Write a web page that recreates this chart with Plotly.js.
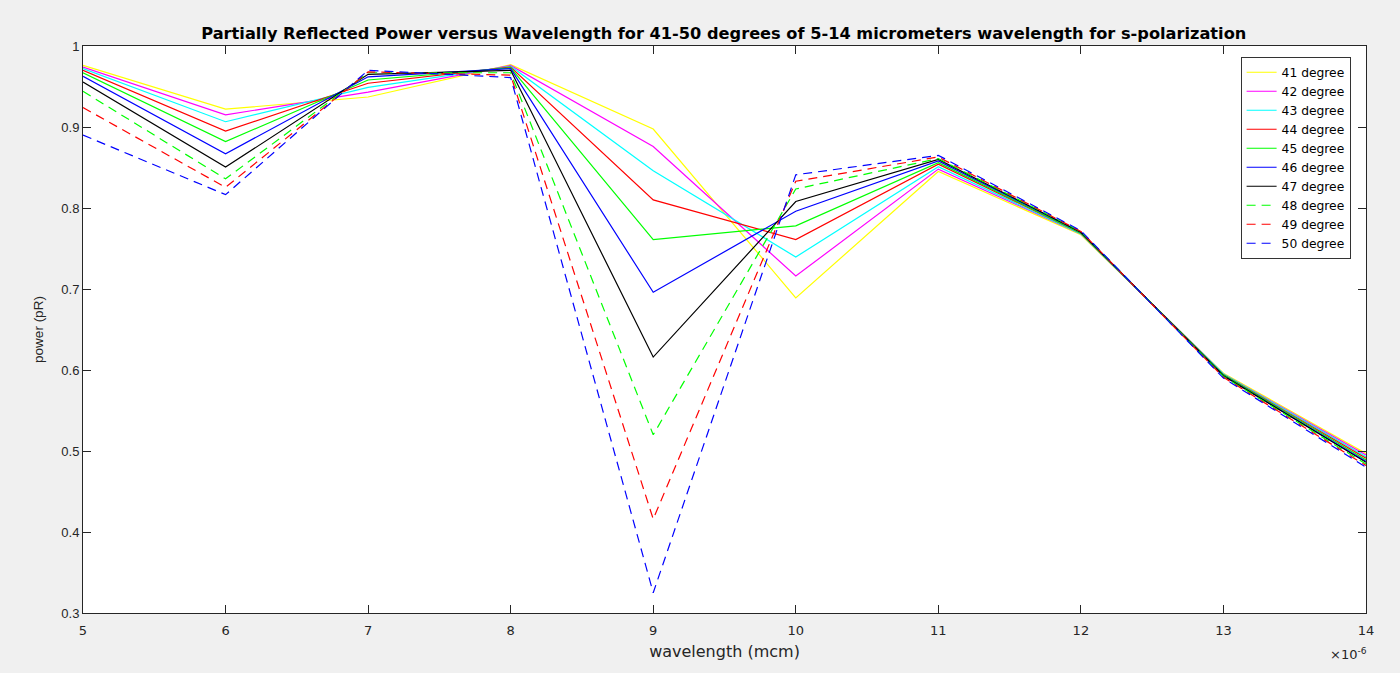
<!DOCTYPE html>
<html>
<head>
<meta charset="utf-8">
<script src="https://cdn.plot.ly/plotly-3.0.1.min.js"></script>
<style>
  html, body { margin: 0; padding: 0; background: #f0f0f0; }
  #chart { width: 1400px; height: 673px; }
</style>
</head>
<body>
<div id="chart"></div>
<script>
// Wavelength in micrometers (axis is scaled by 1e-6)
const wavelength = [5, 6, 7, 8, 9, 10, 11, 12, 13, 14];

// Partially reflected power (pR) for each incidence angle
const pR41 = [0.976, 0.922, 0.937, 0.977, 0.8975, 0.689, 0.845, 0.767, 0.596, 0.497];
const pR42 = [0.974, 0.915, 0.943, 0.976, 0.876, 0.716, 0.848, 0.768, 0.595, 0.495];
const pR43 = [0.972, 0.9065, 0.949, 0.975, 0.846, 0.7395, 0.851, 0.768, 0.595, 0.493];
const pR44 = [0.970, 0.895, 0.954, 0.974, 0.810, 0.761, 0.854, 0.769, 0.594, 0.491];
const pR45 = [0.967, 0.882, 0.958, 0.973, 0.761, 0.778, 0.856, 0.769, 0.594, 0.489];
const pR46 = [0.9625, 0.867, 0.962, 0.972, 0.696, 0.796, 0.858, 0.770, 0.593, 0.487];
const pR47 = [0.9555, 0.8505, 0.965, 0.970, 0.616, 0.808, 0.860, 0.770, 0.593, 0.486];
const pR48 = [0.944, 0.836, 0.967, 0.967, 0.520, 0.8235, 0.861, 0.771, 0.592, 0.484];
const pR49 = [0.924, 0.8255, 0.968, 0.964, 0.416, 0.833, 0.863, 0.771, 0.591, 0.482];
const pR50 = [0.890, 0.8165, 0.970, 0.961, 0.325, 0.841, 0.865, 0.772, 0.590, 0.480];

const seriesNames = ['41 degree', '42 degree', '43 degree', '44 degree', '45 degree',
                     '46 degree', '47 degree', '48 degree', '49 degree', '50 degree'];
const seriesValues = [pR41, pR42, pR43, pR44, pR45, pR46, pR47, pR48, pR49, pR50];
const seriesColors = ['#ffff00', '#ff00ff', '#00ffff', '#ff0000', '#00ff00',
                      '#0000ff', '#000000', '#00ff00', '#ff0000', '#0000ff'];
const seriesDash = ['solid', 'solid', 'solid', 'solid', 'solid',
                    'solid', 'solid', '9px,6px', '9px,6px', '9px,6px'];

const xTicks = [5, 6, 7, 8, 9, 10, 11, 12, 13, 14];
const yTicks = [0.3, 0.4, 0.5, 0.6, 0.7, 0.8, 0.9, 1];
const yTickText = ['0.3', '0.4', '0.5', '0.6', '0.7', '0.8', '0.9', '1'];

const traces = seriesValues.map((vals, i) => ({
  x: wavelength,
  y: vals,
  type: 'scatter',
  mode: 'lines',
  name: seriesNames[i],
  line: { color: seriesColors[i], width: 1.2, dash: seriesDash[i] }
}));

const axisColor = '#262626';
const sans = '"Liberation Sans", Arial, sans-serif';
const wide = '"DejaVu Sans", sans-serif';

const layout = {
  width: 1400,
  height: 673,
  paper_bgcolor: '#f0f0f0',
  plot_bgcolor: '#ffffff',
  margin: { l: 83, r: 34, t: 46, b: 60 },
  font: { family: sans, color: axisColor, size: 13 },
  title: {
    text: '<b>Partially Reflected Power versus Wavelength for 41-50 degrees of 5-14 micrometers wavelength for s-polarization</b>',
    font: { family: wide, size: 16.2, color: '#000000' },
    x: 0.517, xanchor: 'center',
    y: 0.951, yanchor: 'middle'
  },
  xaxis: {
    range: [5, 14],
    tickvals: xTicks,
    ticktext: xTicks.map(String),
    ticks: 'inside',
    ticklen: 8,
    tickcolor: axisColor,
    showline: true,
    linecolor: axisColor,
    linewidth: 1,
    mirror: 'ticks',
    showgrid: false,
    zeroline: false,
    ticklabelstandoff: 5,
    tickfont: { family: wide, size: 13, color: axisColor },
    title: { text: 'wavelength (mcm)', font: { family: wide, size: 16, color: axisColor }, standoff: 9 }
  },
  yaxis: {
    range: [0.3, 1],
    tickvals: yTicks,
    ticktext: yTickText,
    ticks: 'inside',
    ticklen: 8,
    tickcolor: axisColor,
    showline: true,
    linecolor: axisColor,
    linewidth: 1,
    mirror: 'ticks',
    showgrid: false,
    zeroline: false,
    tickfont: { family: sans, size: 13, color: axisColor },
    title: { text: 'power (pR)', font: { family: sans, size: 13.5, color: axisColor }, standoff: 14 }
  },
  legend: {
    x: 0.988, xanchor: 'right',
    y: 0.981, yanchor: 'top',
    bgcolor: '#ffffff',
    bordercolor: '#333333',
    borderwidth: 1,
    font: { family: wide, size: 12.3, color: '#000000' },
    tracegroupgap: 0
  },
  annotations: [{
    xref: 'paper', yref: 'paper',
    x: 1.002, y: -0.072,
    xanchor: 'right', yanchor: 'middle',
    text: '\u00d710<sup>-6</sup>',
    showarrow: false,
    font: { family: wide, size: 13, color: axisColor }
  }],
  showlegend: true
};

Plotly.newPlot('chart', traces, layout, { displayModeBar: false, staticPlot: true });
</script>
</body>
</html>
